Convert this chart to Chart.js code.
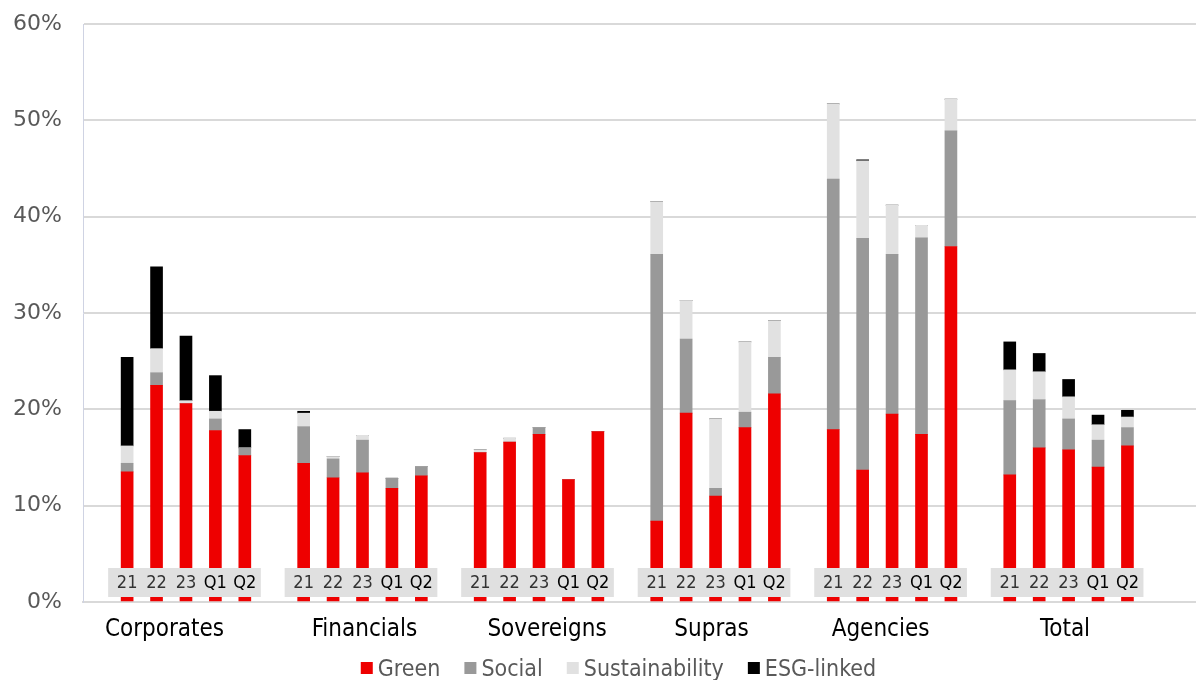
<!DOCTYPE html>
<html><head><meta charset="utf-8">
<script src="https://cdn.jsdelivr.net/npm/chart.js@4.4.1/dist/chart.umd.min.js"></script>
<style>
html,body{margin:0;padding:0;background:#fff;overflow:hidden;}
#wrap{position:relative;width:1196px;height:680px;overflow:hidden;}
#wrap canvas{display:block;}
</style></head><body>
<div id="wrap"><canvas id="c" width="1201" height="680" style="width:1201px;height:680px"></canvas></div>
<script>
// ---- data ----
const groups = ['Corporates','Financials','Sovereigns','Supras','Agencies','Total'];
const periods = ['21','22','23','Q1','Q2'];
const green = [[13.5,22.5,20.6,17.8,15.2],[14.4,12.9,13.4,11.8,13.1],[15.5,16.6,17.4,12.7,17.7],[8.4,19.6,11.0,18.1,21.6],[17.9,13.7,19.5,17.4,36.9],[13.2,16.0,15.8,14.0,16.2]];
const social = [[0.9,1.3,0,1.2,0.8],[3.8,1.95,3.4,1.05,0.95],[0,0,0.7,0,0],[27.7,7.7,0.8,1.6,3.8],[26.0,24.05,16.6,20.4,12.0],[7.7,5.0,3.2,2.8,1.9]];
const sustainability = [[1.8,2.5,0.3,0.8,0],[1.4,0.25,0.5,0,0],[0.3,0.4,0,0,0],[5.45,4.0,7.2,7.3,3.8],[7.8,8.05,5.1,1.3,3.3],[3.2,2.9,2.3,1.6,1.1]];
const esgLinked = [[9.2,8.5,6.7,3.7,1.9],[0.2,0,0,0,0],[0,0,0,0,0],[0,0,0,0,0],[0,0.1,0,0,0],[2.9,1.9,1.8,1.0,0.7]];
const seriesNames = ['Green','Social','Sustainability','ESG-linked'];
const yTickValues = [0,10,20,30,40,50,60];

// ---- styles ----
const colors = ['#ee0000','#999999','#e1e1e1','#000000'];
const groupLabelOffsets = [-21.5, 2, 8, -4, -11.5, -3.5];
const condensed = '"DejaVu Sans Condensed", "DejaVu Sans", sans-serif';

// ---- build slots: blank, 5 bars, blank, ... , blank, blank ----
const labels = [''];
const slotOf = [];
groups.forEach((g, gi) => {
  slotOf.push([]);
  periods.forEach((p) => { slotOf[gi].push(labels.length); labels.push(g + ' ' + p); });
  labels.push('');
});
labels.push('');
function spread(arr2d) {
  const out = labels.map(() => null);
  arr2d.forEach((row, gi) => row.forEach((v, k) => { out[slotOf[gi][k]] = v; }));
  return out;
}
const seriesData = [green, social, sustainability, esgLinked];

const overlay = {
  id: 'overlay',
  afterDatasetsDraw(chart) {
    const ctx = chart.ctx, xs = chart.scales.x, area = chart.chartArea;
    ctx.save();
    groups.forEach((g, gi) => {
      const xFirst = xs.getPixelForValue(slotOf[gi][0]);
      const xLast = xs.getPixelForValue(slotOf[gi][4]);
      const xMid = xs.getPixelForValue(slotOf[gi][2]);
      ctx.fillStyle = '#e0e0e0';
      ctx.fillRect(xFirst - 19, area.bottom - 34, (xLast + 16) - (xFirst - 19), 29);
      ctx.font = '18px ' + condensed;
      ctx.textAlign = 'center';
      ctx.textBaseline = 'middle';
      periods.forEach((p, k) => {
        ctx.fillStyle = p.startsWith('Q') ? '#000' : '#333';
        ctx.fillText(p, xs.getPixelForValue(slotOf[gi][k]), area.bottom - 19);
      });
      ctx.font = '24px ' + condensed;
      ctx.fillStyle = '#000';
      ctx.textBaseline = 'alphabetic';
      ctx.fillText(g, xMid + groupLabelOffsets[gi], area.bottom + 33.5);
    });
    // legend
    ctx.font = '23px ' + condensed;
    ctx.textAlign = 'left';
    ctx.textBaseline = 'alphabetic';
    const box = 12, gapBox = 5, gapItem = 24;
    const widths = seriesNames.map(n => ctx.measureText(n).width);
    let total = 0;
    widths.forEach((w, i) => { total += box + gapBox + w + (i < widths.length - 1 ? gapItem : 0); });
    let x = 618.5 - total / 2;
    seriesNames.forEach((n, i) => {
      ctx.fillStyle = colors[i];
      ctx.fillRect(x, 662, box, box);
      ctx.fillStyle = '#595959';
      ctx.fillText(n, x + box + gapBox, 676);
      x += box + gapBox + widths[i] + gapItem;
    });
    ctx.restore();
  }
};

new Chart(document.getElementById('c'), {
  type: 'bar',
  data: {
    labels: labels,
    datasets: seriesNames.map((n, i) => ({
      label: n,
      data: spread(seriesData[i]),
      backgroundColor: colors[i],
      borderWidth: 0,
      barThickness: 12
    }))
  },
  options: {
    responsive: false,
    animation: false,
    layout: { padding: { top: 24, bottom: 78, left: 0, right: 0 } },
    plugins: { legend: { display: false }, tooltip: { enabled: false } },
    scales: {
      x: {
        stacked: true,
        grid: { display: false, drawTicks: false },
        ticks: { display: false },
        border: { display: true, color: '#d9d9d9', width: 2 },
        afterFit(s) { s.height = 0; }
      },
      y: {
        stacked: true,
        min: 0, max: 60,
        afterFit(s) { s.width = 83; s.paddingTop = 13; s.paddingBottom = 13; },
        afterBuildTicks(s) { s.ticks = yTickValues.map(v => ({ value: v })); },
        ticks: {
          callback: v => v + '%',
          font: { family: 'DejaVu Sans', size: 22 },
          color: '#595959',
          padding: 21
        },
        grid: { color: '#d9d9d9', lineWidth: 2, drawTicks: false },
        border: { color: '#cfd3e3', width: 1 }
      }
    }
  },
  plugins: [overlay]
});
</script>
</body></html>
